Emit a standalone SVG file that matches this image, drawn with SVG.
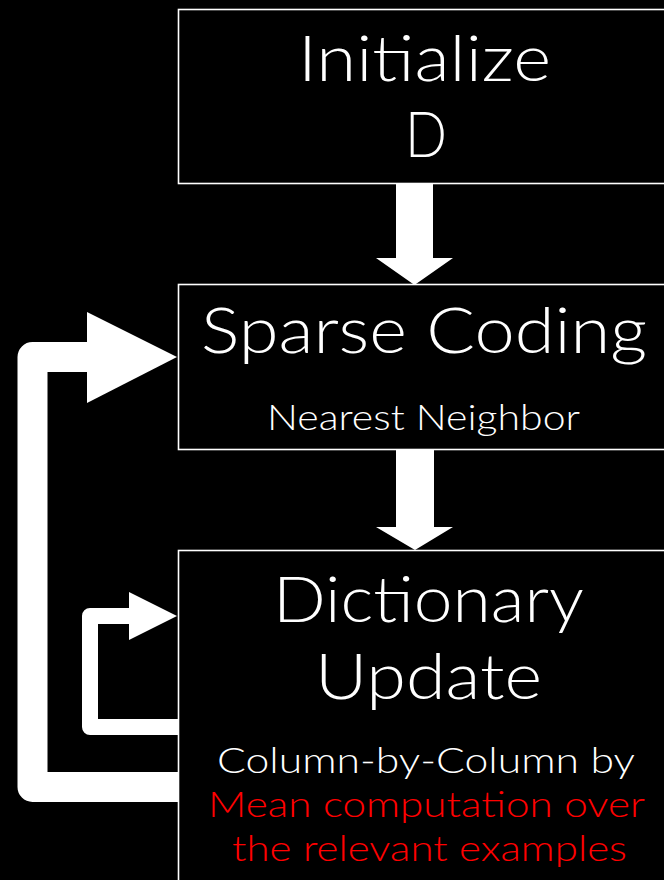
<svg xmlns="http://www.w3.org/2000/svg" width="664" height="880" viewBox="0 0 664 880">
<style>
.box{fill:#000;stroke:#fff;stroke-width:1.6}
.t{font-family:Lato,"Open Sans","Liberation Sans",sans-serif;font-weight:300;fill:#fff;text-anchor:middle}
.big{font-size:63px}
.small{font-size:35px}
.red{fill:#ff0000}
.arr{fill:#fff}
.loop{fill:none;stroke:#fff;stroke-linejoin:round}
</style>
<rect width="664" height="880" fill="#000"/>
<g id="init">
<rect class="box" x="178.5" y="9.5" width="520" height="174"/>
<text class="t big" x="424.5" y="81" textLength="253" lengthAdjust="spacingAndGlyphs">Initialize</text>
<text class="t big" x="426" y="157" textLength="42" lengthAdjust="spacingAndGlyphs">D</text>
</g>
<g id="sparse">
<rect class="box" x="178.5" y="284.5" width="520" height="165"/>
<text class="t big" x="424" y="353" textLength="446" lengthAdjust="spacingAndGlyphs">Sparse Coding</text>
<text class="t small" x="423.5" y="430" textLength="313" lengthAdjust="spacingAndGlyphs">Nearest Neighbor</text>
</g>
<g id="dict">
<rect class="box" x="178.5" y="550.5" width="520" height="360"/>
<text class="t big" x="428.5" y="622" textLength="311" lengthAdjust="spacingAndGlyphs">Dictionary</text>
<text class="t big" x="428.5" y="699" textLength="227" lengthAdjust="spacingAndGlyphs">Update</text>
<text class="t small" x="426" y="773" textLength="418" lengthAdjust="spacingAndGlyphs">Column-by-Column by</text>
<text class="t small red" x="426.5" y="817" textLength="437" lengthAdjust="spacingAndGlyphs">Mean computation over</text>
<text class="t small red" x="429.5" y="861" textLength="395" lengthAdjust="spacingAndGlyphs">the relevant examples</text>
</g>
<g id="connectors">
<polygon class="arr" points="396,184 433,184 433,258 453,258 414.5,285 376,258 396,258"/>
<polygon class="arr" points="396,450 434,450 434,527 453,527 415,550 376,527 396,527"/>
<path class="loop" stroke-width="30" d="M178,787 H32.5 V357 H90"/>
<polygon class="arr" points="87,312 177,357 87,403"/>
<path class="loop" stroke-width="16" d="M178,727 H90 V616 H131"/>
<polygon class="arr" points="129,592 177,616 129,640"/>
</g>
</svg>
